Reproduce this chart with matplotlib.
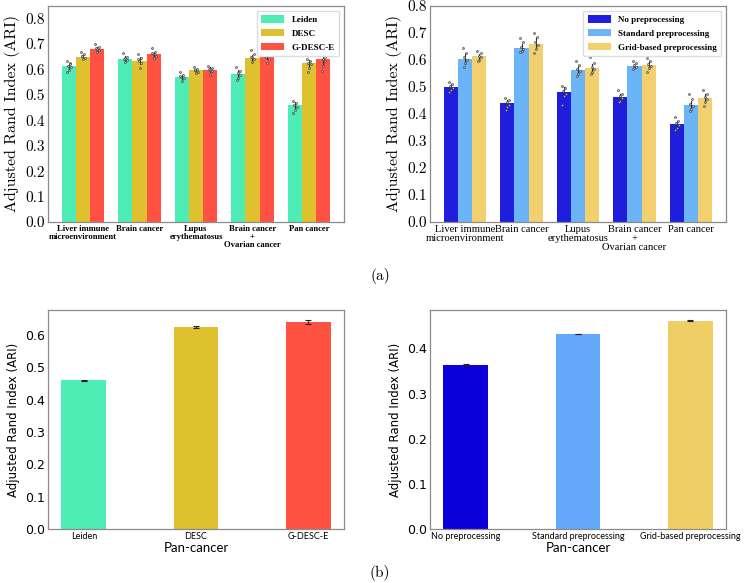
import matplotlib
matplotlib.use("Agg")
import matplotlib.pyplot as plt
import numpy as np

# ---------------- data ----------------
datasets_a = ["Liver immune\nmicroenvironment", "Brain cancer", "Lupus\nerythematosus",
              "Brain cancer\n+\nOvarian cancer", "Pan cancer"]

methods = ["Leiden", "DESC", "G-DESC-E"]
leiden = [0.613, 0.643, 0.570, 0.583, 0.460]
desc = [0.650, 0.635, 0.597, 0.645, 0.625]
gdesc = [0.680, 0.660, 0.600, 0.650, 0.640]

leiden_pts = [[0.635, 0.625, 0.615, 0.610, 0.600, 0.590, 0.620],
              [0.665, 0.650, 0.645, 0.638, 0.630, 0.640],
              [0.590, 0.580, 0.572, 0.565, 0.555, 0.575],
              [0.610, 0.595, 0.585, 0.578, 0.565, 0.560],
              [0.475, 0.468, 0.460, 0.452, 0.440, 0.430]]
desc_pts = [[0.670, 0.660, 0.652, 0.645, 0.640, 0.655],
            [0.660, 0.645, 0.635, 0.625, 0.605, 0.640],
            [0.610, 0.603, 0.598, 0.592, 0.585, 0.600],
            [0.675, 0.660, 0.648, 0.640, 0.630, 0.650],
            [0.640, 0.632, 0.627, 0.620, 0.605, 0.590]]
gdesc_pts = [[0.700, 0.690, 0.682, 0.675, 0.668, 0.685],
             [0.685, 0.670, 0.662, 0.655, 0.645, 0.665],
             [0.615, 0.607, 0.600, 0.595, 0.580, 0.603],
             [0.665, 0.658, 0.650, 0.640, 0.625, 0.655],
             [0.660, 0.650, 0.642, 0.635, 0.615, 0.595]]

preprocs = ["No preprocessing", "Standard preprocessing", "Grid-based preprocessing"]
no_pre = [0.500, 0.440, 0.483, 0.462, 0.362]
std_pre = [0.605, 0.645, 0.563, 0.578, 0.432]
grid_pre = [0.613, 0.660, 0.570, 0.582, 0.460]

no_pre_pts = [[0.520, 0.510, 0.502, 0.495, 0.488, 0.480],
              [0.460, 0.452, 0.443, 0.435, 0.425, 0.415],
              [0.505, 0.495, 0.485, 0.475, 0.465, 0.435],
              [0.490, 0.475, 0.465, 0.458, 0.450, 0.445],
              [0.390, 0.375, 0.365, 0.358, 0.350, 0.340]]
std_pre_pts = [[0.645, 0.625, 0.610, 0.600, 0.590, 0.575],
               [0.680, 0.665, 0.650, 0.642, 0.635, 0.628],
               [0.595, 0.580, 0.567, 0.558, 0.550, 0.540],
               [0.595, 0.588, 0.580, 0.575, 0.570, 0.565],
               [0.475, 0.455, 0.438, 0.428, 0.420, 0.410]]
grid_pre_pts = [[0.635, 0.625, 0.615, 0.610, 0.600, 0.595],
                [0.700, 0.685, 0.665, 0.655, 0.640, 0.625],
                [0.610, 0.590, 0.575, 0.565, 0.555, 0.548],
                [0.608, 0.595, 0.585, 0.578, 0.570, 0.555],
                [0.490, 0.475, 0.462, 0.455, 0.445, 0.430]]

pan_methods = ["Leiden", "DESC", "G-DESC-E"]
pan_method_vals = [0.460, 0.625, 0.640]
pan_method_err = [0.001, 0.004, 0.005]

pan_pre = ["No preprocessing", "Standard preprocessing", "Grid-based preprocessing"]
pan_pre_vals = [0.363, 0.432, 0.461]
pan_pre_err = [0.002, 0.001, 0.001]

# ---------------- style ----------------
c_leiden, c_desc, c_gdesc = "#4EEDB5", "#DFC12F", "#FF5243"
c_no, c_std, c_grid = "#1E1EDC", "#6CB4F8", "#F2D06E"
c_no_b, c_std_b, c_grid_b = "#0C00DA", "#64A8FA", "#F0CE66"
spine_c = "#8a8a8a"
SERIF = "cmr10"

W, H = 744, 583
fig = plt.figure(figsize=(W / 100, H / 100), dpi=100)


def ax_at(l, t, r, b):
    return fig.add_axes([l / W, (H - b) / H, (r - l) / W, (b - t) / H])


jit = [-0.035, 0.025, -0.01, 0.035, 0.0, -0.025, 0.015]


def grouped(ax, series, pts, colors, labels, ylim, cat_font, cat_size, cat_weight, ls):
    x = np.arange(len(datasets_a))
    w = 0.25
    for i, (vals, p, c, lab) in enumerate(zip(series, pts, colors, labels)):
        xs = x + (i - 1) * w
        ax.bar(xs, vals, w, color=c, label=lab, zorder=2)
        for xi, vi, pv in zip(xs, vals, p):
            pv = np.array(pv)
            ci = 1.96 * pv.std() / np.sqrt(len(pv))
            ax.plot([xi, xi], [vi - ci, vi + ci], color="#333333", lw=0.8, zorder=3)
            ax.scatter(xi + np.array(jit[:len(pv)]), pv, s=2.2, facecolor="#bbbbbb",
                       edgecolor="#333333", linewidths=0.4, zorder=4)
    ax.set_xlim(-0.62, 4.62)
    ax.set_ylim(*ylim)
    ax.set_yticks(np.arange(0, 0.81, 0.1))
    ax.set_yticklabels([f"{v:.1f}" for v in np.arange(0, 0.81, 0.1)], fontfamily=SERIF, fontsize=11)
    ax.set_xticks(x)
    ax.set_xticklabels(datasets_a, fontfamily=cat_font, fontsize=cat_size, fontweight=cat_weight,
                       linespacing=ls)
    ax.tick_params(axis="x", length=0, pad=2)
    ax.tick_params(axis="y", length=0, pad=2)
    ax.set_ylabel("Adjusted Rand Index (ARI)", fontfamily=SERIF, fontsize=11.5, labelpad=4)
    for s in ax.spines.values():
        s.set_color(spine_c)
        s.set_linewidth(0.9)
    ax.legend(loc="upper right", prop={"family": "Liberation Serif", "weight": "bold", "size": 6.5},
              handlelength=2.6, handleheight=0.9, borderpad=0.5, labelspacing=0.55,
              framealpha=1, edgecolor="#dddddd", fancybox=True)


ax1 = ax_at(48, 6, 344, 222)
grouped(ax1, [leiden, desc, gdesc], [leiden_pts, desc_pts, gdesc_pts],
        [c_leiden, c_desc, c_gdesc], methods, (0, 0.85), "Liberation Serif", 6.2, "bold", 1.05)

ax2 = ax_at(430, 6, 726, 222)
grouped(ax2, [no_pre, std_pre, grid_pre], [no_pre_pts, std_pre_pts, grid_pre_pts],
        [c_no, c_std, c_grid], preprocs, (0, 0.8), "Liberation Serif", 7.6, "normal", 1.0)


def single(ax, cats, vals, err, colors, yticks):
    x = np.arange(len(cats))
    ax.bar(x, vals, 0.4, color=colors, yerr=err, capsize=2,
           error_kw={"elinewidth": 0.8, "capthick": 0.8, "ecolor": "#222222"})
    ax.set_xticks(x)
    ax.set_xticklabels(cats, fontfamily="Lato", fontsize=6.5)
    ax.set_xlabel("Pan-cancer", fontfamily="Lato", fontsize=9.5, labelpad=1)
    ax.set_ylabel("Adjusted Rand Index (ARI)", fontfamily="DejaVu Sans", fontsize=8.5, labelpad=4)
    ax.set_yticks(yticks)
    ax.set_yticklabels([f"{v:.1f}" for v in yticks], fontfamily="DejaVu Sans", fontsize=9)
    ax.tick_params(axis="both", length=0, pad=2)
    for s in ax.spines.values():
        s.set_color(spine_c)
        s.set_linewidth(0.9)


ax3 = ax_at(48, 310, 344, 529)
single(ax3, pan_methods, pan_method_vals, pan_method_err, [c_leiden, c_desc, c_gdesc],
       [0.0, 0.1, 0.2, 0.3, 0.4, 0.5, 0.6])

ax4 = ax_at(430, 310, 726, 529)
single(ax4, pan_pre, pan_pre_vals, pan_pre_err, [c_no_b, c_std_b, c_grid_b],
       [0.0, 0.1, 0.2, 0.3, 0.4])

fig.text(380 / W, 1 - 276 / H, "(a)", fontfamily=SERIF, fontsize=11, ha="center", va="center")
fig.text(380 / W, 1 - 573 / H, "(b)", fontfamily=SERIF, fontsize=11, ha="center", va="center")

fig.savefig("out.png", dpi=100)
